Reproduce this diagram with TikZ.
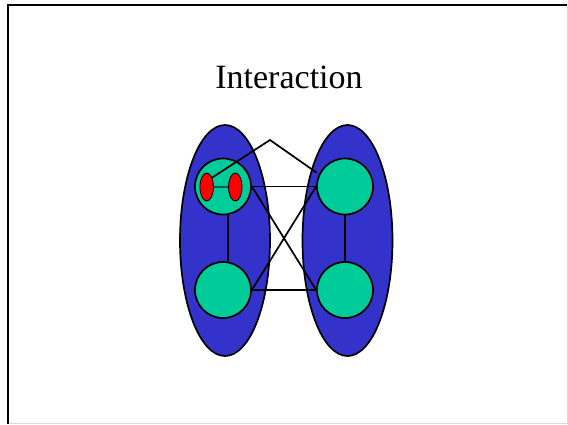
\documentclass[tikz,border=0pt]{standalone}
\usepackage{fontspec}
\setmainfont{Liberation Serif}
\usetikzlibrary{shapes.geometric}
\definecolor{groupblue}{RGB}{51,51,204}
\definecolor{nodegreen}{RGB}{0,204,153}
\definecolor{partred}{RGB}{255,0,0}
\definecolor{linkteal}{RGB}{0,90,80}
\tikzset{
  group/.style={ellipse, draw=black, line width=1.7pt, fill=groupblue, minimum width=90pt, minimum height=231pt, inner sep=0pt},
  agent/.style={circle, draw=black, line width=1.7pt, fill=nodegreen, minimum size=56pt, inner sep=0pt},
  part/.style={ellipse, draw=black, line width=0.8pt, fill=partred, minimum width=13.5pt, minimum height=28pt, inner sep=0pt},
  link/.style={draw=black, line width=1.7pt},
}
\begin{document}
\begin{tikzpicture}[x=1pt,y=-1pt]
\useasboundingbox (0,0) rectangle (568,424);
\fill[white] (0,0) rectangle (568,424);
% slide frame
\draw[black!15, line width=1pt] (567.5,5) -- (567.5,423.5) -- (8,423.5);
\draw[black, line width=2.2pt] (8,424) -- (8,5) -- (567,5);
% title
\node[font=\fontsize{34}{40}\selectfont, anchor=base] (title) at (289,88) {Interaction};
% groups
\node[group] (gl) at (225,240.5) {};
\node[group] (gr) at (347.5,240.5) {};
% agents
\node[agent] (tl) at (223,186.5) {};
\node[agent] (bl) at (223,290) {};
\node[agent] (tr) at (345,186.5) {};
\node[agent] (br) at (345,290) {};
% parts inside top-left agent
\node[part] (pa) at (206.7,187) {};
\node[part] (pb) at (235.3,187) {};
\draw[linkteal, line width=1.2pt] (pa) -- (pb);
% links
\coordinate (apex) at (270,140);
\coordinate (pend) at (316.7,172.7);
\coordinate (pstart) at (211.5,178);
\draw[link] (pstart) -- (apex) -- (pend);
\draw[link] (tl.east) -- (tr.west);
\draw[link] (bl.east) -- (br.west);
\draw[link] (tl.east) -- (br.west);
\draw[link] (bl.east) -- (tr.west);
\draw[link] ([xshift=5pt]tl.south) -- ([xshift=5pt]bl.north);
\draw[link] (tr.south) -- (br.north);
\end{tikzpicture}
\end{document}
